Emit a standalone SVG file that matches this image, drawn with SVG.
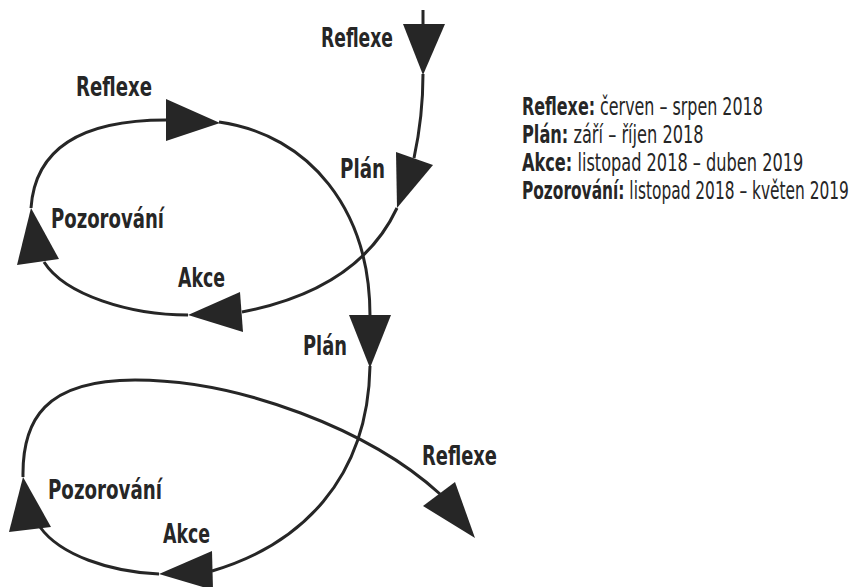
<svg xmlns="http://www.w3.org/2000/svg" width="863" height="587" viewBox="0 0 863 587">
<style>
.ln{fill:none;stroke:#262626;stroke-width:3}
.ah{fill:#262626;stroke:none}
text{font-family:"Liberation Sans Narrow","DejaVu Sans Condensed","Liberation Sans",sans-serif;fill:#262626}
.lb{font-size:27px;font-weight:bold}
.lg{font-size:24px}
.b{font-weight:bold}
</style>
<rect width="863" height="587" fill="#ffffff"/>
<g id="connectors">
<path class="ln" d="M423,10 L423,26"/>
<path class="ln" d="M423,74 C423,110 419,135 414,158"/>
<path class="ln" d="M397,208 C375,255 330,295 242,312"/>
<path class="ln" d="M188,315 C130,315 65,295 44,262"/>
<path class="ln" d="M31,208 C35,150 80,120 166,120"/>
<path class="ln" d="M219,122 C310,135 370,210 370,316"/>
<path class="ln" d="M370,366 C368,480 300,545 212,571"/>
<path class="ln" d="M159,574 C110,572 60,555 40,527"/>
<path class="ln" d="M23,477 C22,420 45,380 135,380 C240,380 370,430 440,494"/>
<polygon class="ah" points="403,24 445,24 423,75"/>
<polygon class="ah" points="396,152 433,165 397,208"/>
<polygon class="ah" points="240,292 243,332 188,315"/>
<polygon class="ah" points="17,265 59,259 31,208"/>
<polygon class="ah" points="166,99 166,141 220,123"/>
<polygon class="ah" points="349,315 391,315 370,368"/>
<polygon class="ah" points="212,551 213,590 159,574"/>
<polygon class="ah" points="9,532 51,527 23,477"/>
<polygon class="ah" points="423,506 455,482 475,538"/>
</g>
<g id="reflexe-top"><text class="lb" x="321" y="47" textLength="72" lengthAdjust="spacingAndGlyphs">Reflexe</text></g>
<g id="reflexe-1"><text class="lb" x="76" y="96" textLength="76" lengthAdjust="spacingAndGlyphs">Reflexe</text></g>
<g id="plan-1"><text class="lb" x="340" y="178" textLength="45" lengthAdjust="spacingAndGlyphs">Plán</text></g>
<g id="pozorovani-1"><text class="lb" x="51" y="228" textLength="113" lengthAdjust="spacingAndGlyphs">Pozorování</text></g>
<g id="akce-1"><text class="lb" x="178" y="287" textLength="47" lengthAdjust="spacingAndGlyphs">Akce</text></g>
<g id="plan-2"><text class="lb" x="303" y="355" textLength="44" lengthAdjust="spacingAndGlyphs">Plán</text></g>
<g id="reflexe-2"><text class="lb" x="422" y="465" textLength="75" lengthAdjust="spacingAndGlyphs">Reflexe</text></g>
<g id="pozorovani-2"><text class="lb" x="48" y="499" textLength="114" lengthAdjust="spacingAndGlyphs">Pozorování</text></g>
<g id="akce-2"><text class="lb" x="163" y="543" textLength="47" lengthAdjust="spacingAndGlyphs">Akce</text></g>
<g id="legend">
<text class="lg" transform="translate(522,115) scale(0.8,1)" textLength="301" lengthAdjust="spacingAndGlyphs"><tspan class="b">Reflexe:</tspan> červen – srpen 2018</text>
<text class="lg" transform="translate(522,143) scale(0.8,1)" textLength="227" lengthAdjust="spacingAndGlyphs"><tspan class="b">Plán:</tspan> září – říjen 2018</text>
<text class="lg" transform="translate(522,171) scale(0.75,1)" textLength="375" lengthAdjust="spacingAndGlyphs"><tspan class="b">Akce:</tspan> listopad 2018 – duben 2019</text>
<text class="lg" transform="translate(522,199) scale(0.7,1)" textLength="467" lengthAdjust="spacingAndGlyphs"><tspan class="b">Pozorování:</tspan> listopad 2018 – květen 2019</text>
</g>
</svg>
